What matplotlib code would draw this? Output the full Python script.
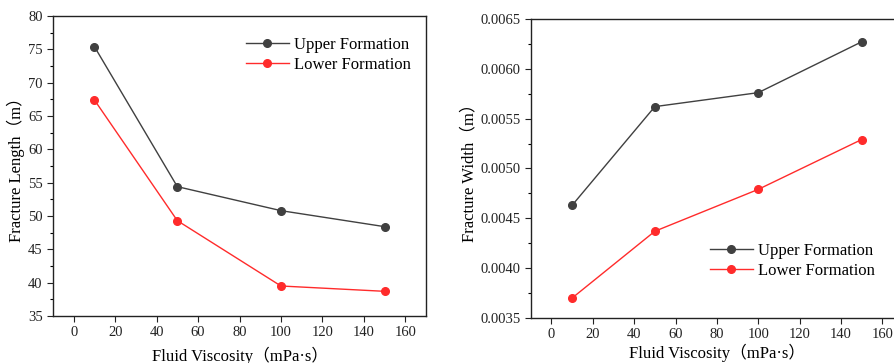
import numpy as np
import matplotlib
matplotlib.use('Agg')
import matplotlib.pyplot as plt
from matplotlib.ticker import MultipleLocator, AutoMinorLocator

plt.rcParams['font.family'] = ['Liberation Serif', 'Noto Sans CJK SC']

# data
viscosity = [10, 50, 100, 150]
length_upper = [75.4, 54.4, 50.8, 48.4]
length_lower = [67.4, 49.3, 39.5, 38.7]
width_upper = [0.00463, 0.00562, 0.00576, 0.00627]
width_lower = [0.00370, 0.00437, 0.00479, 0.00529]

c_up = '#404040'
c_low = '#ff2b2b'

fig = plt.figure(figsize=(8.95, 3.63), dpi=100)
ax1 = fig.add_axes([0.0592, 0.1295, 0.4168, 0.8265])
ax2 = fig.add_axes([0.593, 0.124, 0.416, 0.824])

def style(ax, pad):
    ax.set_xlim(-10, 170)
    ax.xaxis.set_major_locator(MultipleLocator(20))
    ax.yaxis.set_minor_locator(AutoMinorLocator(2))
    ax.tick_params(axis='both', which='major', direction='out', length=4, width=0.8, labelsize=10.5, colors='#222222')
    ax.tick_params(axis='y', which='minor', direction='out', length=2.5, width=0.8)
    for s in ax.spines.values():
        s.set_linewidth(1.0)
        s.set_color('#222222')
    ax.set_xlabel('Fluid Viscosity（mPa·s）', fontsize=12, labelpad=pad)

# left: fracture length
ax1.plot(viscosity, length_upper, '-o', color=c_up, lw=1.0, ms=5.5, label='Upper Formation')
ax1.plot(viscosity, length_lower, '-o', color=c_low, lw=1.0, ms=5.5, label='Lower Formation')
ax1.set_ylim(35, 80)
ax1.yaxis.set_major_locator(MultipleLocator(5))
style(ax1, 5)
ax1.set_ylabel('Fracture Length（m）', fontsize=12, labelpad=2)
ax1.legend(loc='upper right', bbox_to_anchor=(1.0, 0.98), frameon=False, fontsize=12,
           handlelength=2.6, handletextpad=0.3, labelspacing=0.25)

# right: fracture width
ax2.plot(viscosity, width_upper, '-o', color=c_up, lw=1.0, ms=5.5, label='Upper Formation')
ax2.plot(viscosity, width_lower, '-o', color=c_low, lw=1.0, ms=5.5, label='Lower Formation')
ax2.set_ylim(0.0035, 0.0065)
ax2.yaxis.set_major_locator(MultipleLocator(0.0005))
ax2.yaxis.set_major_formatter(matplotlib.ticker.FormatStrFormatter('%.4f'))
style(ax2, 2)
ax2.set_ylabel('Fracture Width（m）', fontsize=12, labelpad=2)
ax2.legend(loc='lower right', bbox_to_anchor=(0.965, 0.08), frameon=False, fontsize=12,
           handlelength=2.6, handletextpad=0.3, labelspacing=0.25)

fig.savefig('out.png', dpi=100)
